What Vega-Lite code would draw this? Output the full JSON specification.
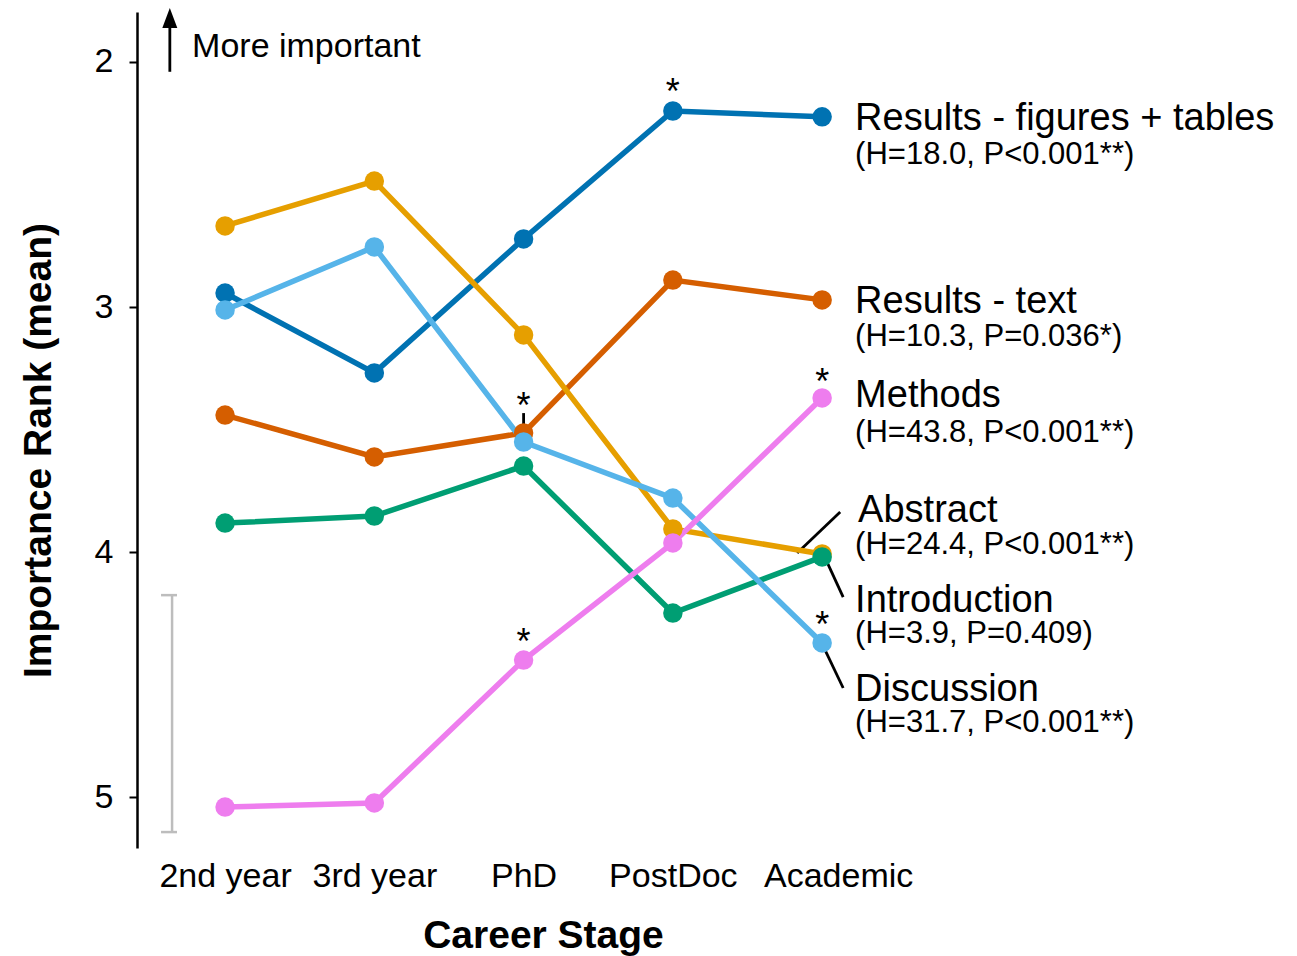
{
  "$schema": "https://vega.github.io/schema/vega-lite/v6.json",
  "autosize": {"type": "none"},
  "padding": {"left": 137, "top": 12, "right": 348, "bottom": 108},
  "width": 812,
  "height": 836,
  "background": "white",
  "config": {"view": {"stroke": null}, "font": "Liberation Sans"},
  "datasets": {
    "series": [
      {"section": "Results - figures + tables", "stage": 1, "rank": 2.943},
      {"section": "Results - figures + tables", "stage": 2, "rank": 3.269},
      {"section": "Results - figures + tables", "stage": 3, "rank": 2.722},
      {"section": "Results - figures + tables", "stage": 4, "rank": 2.200},
      {"section": "Results - figures + tables", "stage": 5, "rank": 2.224},
      {"section": "Results - text", "stage": 1, "rank": 3.441},
      {"section": "Results - text", "stage": 2, "rank": 3.612},
      {"section": "Results - text", "stage": 3, "rank": 3.514},
      {"section": "Results - text", "stage": 4, "rank": 2.890},
      {"section": "Results - text", "stage": 5, "rank": 2.971},
      {"section": "Abstract", "stage": 1, "rank": 2.669},
      {"section": "Abstract", "stage": 2, "rank": 2.486},
      {"section": "Abstract", "stage": 3, "rank": 3.114},
      {"section": "Abstract", "stage": 4, "rank": 3.906},
      {"section": "Abstract", "stage": 5, "rank": 4.008},
      {"section": "Introduction", "stage": 1, "rank": 3.882},
      {"section": "Introduction", "stage": 2, "rank": 3.853},
      {"section": "Introduction", "stage": 3, "rank": 3.649},
      {"section": "Introduction", "stage": 4, "rank": 4.249},
      {"section": "Introduction", "stage": 5, "rank": 4.020},
      {"section": "Discussion", "stage": 1, "rank": 3.012},
      {"section": "Discussion", "stage": 2, "rank": 2.755},
      {"section": "Discussion", "stage": 3, "rank": 3.551},
      {"section": "Discussion", "stage": 4, "rank": 3.780},
      {"section": "Discussion", "stage": 5, "rank": 4.371},
      {"section": "Methods", "stage": 1, "rank": 5.041},
      {"section": "Methods", "stage": 2, "rank": 5.024},
      {"section": "Methods", "stage": 3, "rank": 4.441},
      {"section": "Methods", "stage": 4, "rank": 3.963},
      {"section": "Methods", "stage": 5, "rank": 3.371}
    ],
    "labels": [
      {"text": "Results - figures + tables", "x": 5.221, "y": 2.233, "kind": "name"},
      {"text": "(H=18.0, P<0.001**)", "x": 5.221, "y": 2.380, "kind": "sub"},
      {"text": "Results - text", "x": 5.221, "y": 2.980, "kind": "name"},
      {"text": "(H=10.3, P=0.036*)", "x": 5.221, "y": 3.122, "kind": "sub"},
      {"text": "Methods", "x": 5.221, "y": 3.363, "kind": "name"},
      {"text": "(H=43.8, P<0.001**)", "x": 5.221, "y": 3.514, "kind": "sub"},
      {"text": "Abstract", "x": 5.241, "y": 3.833, "kind": "name"},
      {"text": "(H=24.4, P<0.001**)", "x": 5.221, "y": 3.971, "kind": "sub"},
      {"text": "Introduction", "x": 5.221, "y": 4.200, "kind": "name"},
      {"text": "(H=3.9, P=0.409)", "x": 5.221, "y": 4.335, "kind": "sub"},
      {"text": "Discussion", "x": 5.221, "y": 4.563, "kind": "name"},
      {"text": "(H=31.7, P<0.001**)", "x": 5.221, "y": 4.698, "kind": "sub"}
    ],
    "stars": [
      {"x": 4, "y": 2.125},
      {"x": 3, "y": 3.41},
      {"x": 3, "y": 4.37},
      {"x": 5, "y": 3.31},
      {"x": 5, "y": 4.30}
    ],
    "segments": [
      {"x": 5.121, "y": 3.837, "x2": 4.833, "y2": 4.004, "kind": "black"},
      {"x": 5.02, "y": 4.024, "x2": 5.141, "y2": 4.184, "kind": "black"},
      {"x": 5.02, "y": 4.400, "x2": 5.141, "y2": 4.555, "kind": "black"},
      {"x": 3, "y": 3.433, "x2": 3, "y2": 3.555, "kind": "black"},
      {"x": 0.63, "y": 2.04, "x2": 0.63, "y2": 1.86, "kind": "black"},
      {"x": 0.645, "y": 4.176, "x2": 0.645, "y2": 5.143, "kind": "gray"},
      {"x": 0.571, "y": 4.176, "x2": 0.678, "y2": 4.176, "kind": "gray"},
      {"x": 0.571, "y": 5.143, "x2": 0.678, "y2": 5.143, "kind": "gray"}
    ]
  },
  "layer": [
    {
      "data": {"name": "segments"},
      "transform": [{"filter": "datum.kind === 'gray'"}],
      "mark": {"type": "rule", "strokeWidth": 2.5, "color": "#bdbdbd"},
      "encoding": {
        "x": {"field": "x", "type": "quantitative", "scale": {"domain": [0.41, 5.85], "nice": false, "zero": false}},
        "y": {"field": "y", "type": "quantitative"},
        "x2": {"field": "x2"},
        "y2": {"field": "y2"}
      }
    },
    {
      "data": {"name": "segments"},
      "transform": [{"filter": "datum.kind === 'black'"}],
      "mark": {"type": "rule", "strokeWidth": 2.8, "color": "black"},
      "encoding": {
        "x": {"field": "x", "type": "quantitative"},
        "y": {"field": "y", "type": "quantitative"},
        "x2": {"field": "x2"},
        "y2": {"field": "y2"}
      }
    },
    {
      "data": {"values": [{"x": 0.63, "y": 1.8204}]},
      "mark": {"type": "point", "shape": "M0,-1L0.75,1L-0.75,1Z", "filled": true, "color": "black", "size": 400, "opacity": 1},
      "encoding": {
        "x": {"field": "x", "type": "quantitative"},
        "y": {"field": "y", "type": "quantitative"}
      }
    },
    {
      "data": {"values": [{"x": 0.779, "y": 1.939, "text": "More important"}]},
      "mark": {"type": "text", "align": "left", "baseline": "middle", "fontSize": 34, "color": "black"},
      "encoding": {
        "x": {"field": "x", "type": "quantitative"},
        "y": {"field": "y", "type": "quantitative"},
        "text": {"field": "text"}
      }
    },
    {
      "data": {"name": "series"},
      "mark": {"type": "line", "strokeWidth": 5.5},
      "encoding": {
        "x": {"field": "stage", "type": "quantitative"},
        "y": {"field": "rank", "type": "quantitative"},
        "color": {"field": "section", "type": "nominal", "legend": null,
          "scale": {"domain": ["Results - figures + tables", "Results - text", "Abstract", "Introduction", "Discussion", "Methods"],
                    "range": ["#0072B2", "#D55E00", "#E69F00", "#009E73", "#56B4E9", "#EE7DEE"]}},
        "detail": {"field": "section"}
      }
    },
    {
      "data": {"name": "series"},
      "mark": {"type": "point", "filled": true, "opacity": 1, "size": 380},
      "encoding": {
        "x": {"field": "stage", "type": "quantitative"},
        "y": {"field": "rank", "type": "quantitative"},
        "color": {"field": "section", "type": "nominal", "legend": null}
      }
    },
    {
      "data": {"name": "stars"},
      "mark": {"type": "text", "align": "center", "baseline": "middle", "fontSize": 36, "color": "black"},
      "encoding": {
        "x": {"field": "x", "type": "quantitative"},
        "y": {"field": "y", "type": "quantitative"},
        "text": {"value": "*"}
      }
    },
    {
      "data": {"name": "labels"},
      "mark": {"type": "text", "align": "left", "baseline": "middle", "color": "black"},
      "encoding": {
        "x": {"field": "x", "type": "quantitative"},
        "y": {"field": "y", "type": "quantitative"},
        "text": {"field": "text"},
        "size": {"field": "kind", "type": "nominal", "scale": {"domain": ["name", "sub"], "range": [38, 31]}, "legend": null}
      }
    }
  ],
  "encoding": {
    "x": {
      "type": "quantitative",
      "axis": {
        "values": [1, 2, 3, 4, 5],
        "labelExpr": "['','2nd year','3rd year','PhD','PostDoc','Academic'][datum.value]",
        "labelOffset": {"condition": {"test": "datum.value === 5", "value": 16}, "value": 0},
        "domain": false, "ticks": false, "grid": false,
        "labelFontSize": 34, "labelColor": "black", "labelPadding": 11,
        "title": "Career Stage", "titleFontSize": 39, "titleFontWeight": "bold", "titleColor": "black",
        "titleBaseline": "middle", "titleY": 87
      }
    },
    "y": {
      "type": "quantitative",
      "scale": {"domain": [1.796, 5.208], "reverse": true, "nice": false, "zero": false},
      "axis": {
        "values": [2, 3, 4, 5], "format": "d",
        "domainColor": "black", "domainWidth": 2.5,
        "tickColor": "black", "tickSize": 8, "tickWidth": 2,
        "labelFontSize": 34, "labelColor": "black", "labelPadding": 16,
        "grid": false,
        "title": "Importance Rank (mean)", "titleFontSize": 39, "titleFontWeight": "bold", "titleColor": "black",
        "titleX": -99, "titleY": 438, "titleBaseline": "middle", "titleAngle": -90
      }
    }
  }
}
